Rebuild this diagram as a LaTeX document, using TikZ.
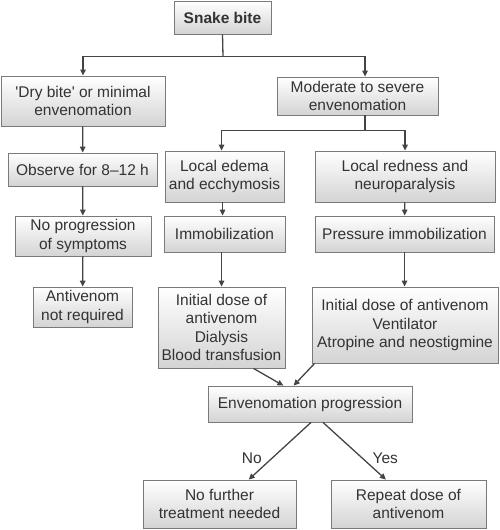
\documentclass[tikz,border=0pt]{standalone}
\usepackage{fontspec}
\setmainfont{Liberation Sans}
\usetikzlibrary{arrows.meta,calc,shadows}
\definecolor{txt}{HTML}{333333}
\definecolor{edge}{HTML}{444444}
\definecolor{bord}{HTML}{7A7A7A}
\begin{document}
\begin{tikzpicture}[x=1pt,y=-1pt,
  box/.style={draw=bord, line width=0.8pt, top color=white, bottom color=black!17,
    drop shadow={shadow xshift=0.6pt, shadow yshift=-1.4pt, fill=black!40, opacity=0.8},
    text=txt, align=center, inner sep=0pt,
    font=\fontsize{15.5}{18.5}\selectfont},
  conn/.style={draw=edge, line width=1.3pt},
  arr/.style={conn, -{Triangle[length=6pt,width=5.5pt]}},
  lab/.style={text=txt, font=\fontsize{15.5}{18.5}\selectfont}]
\useasboundingbox (0,0) rectangle (500,530);

\node[box, minimum width=97pt, minimum height=33pt, font=\fontsize{15.5}{18.5}\selectfont\bfseries] (snake) at (222.5,17.5) {Snake bite};
\node[box, minimum width=164pt, minimum height=50pt] (dry) at (83,101) {\textquotesingle Dry bite\textquotesingle{} or minimal\\envenomation};
\node[box, minimum width=161pt, minimum height=38pt] (mod) at (357.5,96) {Moderate to severe\\envenomation};
\node[box, minimum width=149pt, minimum height=33pt] (obs) at (82.5,169.5) {Observe for 8--12 h};
\node[box, minimum width=119pt, minimum height=51pt] (edema) at (224.5,176.5) {Local edema\\and ecchymosis};
\node[box, minimum width=180pt, minimum height=51pt] (red) at (405,176.5) {Local redness and\\neuroparalysis};
\node[box, minimum width=136pt, minimum height=40pt] (noprog) at (83,236) {No progression\\of symptoms};
\node[box, minimum width=121pt, minimum height=36pt] (immob) at (224.5,234) {Immobilization};
\node[box, minimum width=179pt, minimum height=36pt] (press) at (404.5,234) {Pressure immobilization};
\node[box, minimum width=99pt, minimum height=40pt] (antiv) at (82.5,307) {Antivenom\\not required};
\node[box, minimum width=127pt, minimum height=81pt] (initL) at (221.5,327.5) {Initial dose of\\antivenom\\Dialysis\\Blood transfusion};
\node[box, minimum width=186pt, minimum height=76pt] (initR) at (405,325) {Initial dose of antivenom\\Ventilator\\Atropine and neostigmine};
\node[box, minimum width=204pt, minimum height=36pt] (env) at (310,404) {Envenomation progression};
\node[box, minimum width=153pt, minimum height=48pt] (nofur) at (219.5,504) {No further\\treatment needed};
\node[box, minimum width=155pt, minimum height=48pt] (rep) at (408.5,504) {Repeat dose of\\antivenom};

\coordinate (j1) at ($(snake.south)+(0.5,22)$);
\coordinate (modtop) at ($(mod.north)+(7.5,0)$);
\coordinate (j2) at ($(modtop)+(0,54)$);
\draw[conn] (snake.south) -- (j1);
\draw[arr] (j1) -| (dry.north);
\draw[arr] (j1) -| (modtop);
\draw[conn] (modtop |- mod.south) -- (j2);
\draw[arr] (j2) -| ($(edema.north)+(-3,0)$);
\draw[arr] (j2) -| (red.north);

\draw[arr] (dry) -- (obs);
\draw[arr] (obs) -- (noprog);
\draw[arr] (noprog) -- (antiv);
\draw[arr] ($(edema.south)+(-2,0)$) -- ($(immob.north)+(-2,0)$);
\draw[arr] ($(immob.south)+(-3,0)$) -- ($(initL.north)+(0,0)$);
\draw[arr] (red) -- (press);
\draw[arr] (press.south) -- (press.south |- initR.north);

\draw[arr] ($(initL.south)!0.5!(initL.south east)$) -- ($(env.north west)!0.37!(env.north east)$);
\draw[arr] ($(initR.south west)+(3,0)$) -- ($(env.north west)!0.42!(env.north east)$);

\draw[arr] ($(env.south)+(1,0)$) -- node[lab, pos=0.63, left=6pt] {No} ($(nofur.north west)!0.69!(nofur.north east)$);
\draw[arr] ($(env.south)+(13,0)$) -- node[lab, pos=0.63, right=6pt] {Yes} ($(rep.north west)!0.355!(rep.north east)$);
\end{tikzpicture}
\end{document}
